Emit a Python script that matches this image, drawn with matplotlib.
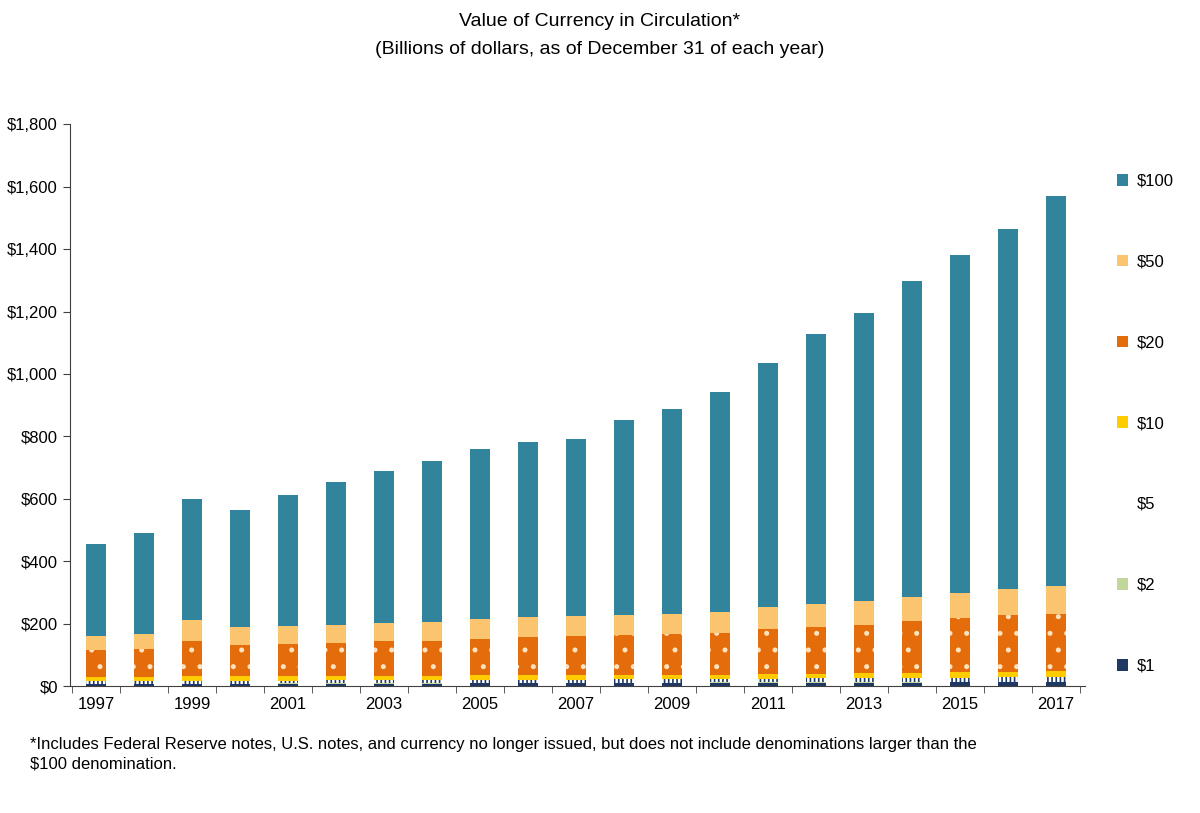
import matplotlib

matplotlib.use("Agg")
import matplotlib.pyplot as plt
import numpy as np
from matplotlib.patches import Patch
from matplotlib.ticker import FuncFormatter, MultipleLocator

plt.rcParams["font.family"] = ["Liberation Sans", "DejaVu Sans"]
plt.rcParams["hatch.linewidth"] = 1.2

years = list(range(1997, 2018))
totals = [457, 492, 601, 563, 612, 655, 690, 720, 759, 783, 792,
          853, 888, 942, 1034, 1127, 1197, 1298, 1380, 1464, 1571]
d1 = [6.6, 6.7, 7.1, 7.3, 7.5, 7.8, 8.0, 8.3, 8.6, 8.9, 9.2,
      9.4, 9.9, 10.1, 10.4, 10.8, 11.1, 11.6, 11.9, 12.3, 12.4]
d2 = [1.0, 1.1, 1.1, 1.2, 1.3, 1.3, 1.4, 1.4, 1.5, 1.5, 1.6,
      1.7, 1.7, 1.8, 1.9, 2.0, 2.0, 2.1, 2.2, 2.3, 2.4]
d5 = [7.9, 8.0, 8.9, 8.6, 8.7, 9.1, 9.5, 9.7, 10.0, 10.2, 10.2,
      10.5, 10.9, 11.0, 11.4, 11.9, 12.2, 12.8, 13.1, 13.5, 14.2]
d10 = [14.0, 14.0, 15.8, 15.0, 15.0, 14.9, 14.8, 14.7, 14.6, 14.6, 14.3,
       14.1, 14.1, 14.2, 14.5, 15.0, 15.6, 16.4, 17.1, 17.8, 18.5]
d20 = [85, 88, 113, 99, 104, 105, 110, 112, 118, 122, 125,
       127, 129, 133, 144, 150, 156, 165, 173, 181, 185]
d50 = [45, 49, 65, 57, 56, 58, 60, 60, 61, 63, 63,
       66, 66, 67, 70, 72, 75, 77, 81, 84, 87]
d100 = [t - a - b - c - d - e - f for t, a, b, c, d, e, f
        in zip(totals, d1, d2, d5, d10, d20, d50)]

series = [
    ("$1", d1, dict(color="#1f3864")),
    ("$2", d2, dict(color="#c3d69b")),
    ("$5", d5, dict(color="white", hatch="||||", edgecolor="#1f3864")),
    ("$10", d10, dict(color="#ffcc00")),
    ("$20", d20, dict(color="#e46c0a", hatch=".", edgecolor="#fde3c0")),
    ("$50", d50, dict(color="#fac56e")),
    ("$100", d100, dict(color="#31849b")),
]

fig = plt.figure(figsize=(12, 8.13), dpi=100)
ax = fig.add_axes([0.058, 0.156, 0.846, 0.691])

x = np.arange(len(years))
bottom = np.zeros(len(years))
handles = []
for label, vals, style in series:
    vals = np.array(vals)
    ax.bar(x, vals, 0.4, bottom=bottom, linewidth=0, **style)
    bottom += vals
    handles.append(Patch(label=label, linewidth=0, **style))

ax.set_xlim(-0.55, len(years) - 0.4)
ax.set_ylim(0, 1800)
ax.yaxis.set_major_locator(MultipleLocator(200))
ax.yaxis.set_major_formatter(FuncFormatter(lambda v, p: f"${v:,.0f}"))
ax.set_xticks(x[::2])
ax.set_xticklabels([str(y) for y in years[::2]])
ax.set_xticks(np.arange(-0.5, len(years), 1), minor=True)
ax.tick_params(axis="x", which="major", length=0, labelsize=12, pad=8)
ax.tick_params(axis="x", which="minor", length=5, color="#404040")
ax.tick_params(axis="y", length=5, labelsize=12, color="#404040")
for s in ("top", "right"):
    ax.spines[s].set_visible(False)
for s in ("left", "bottom"):
    ax.spines[s].set_color("#404040")

fig.legend(handles=handles[::-1], loc="upper left", bbox_to_anchor=(0.918, 0.805),
           frameon=False, fontsize=12, handlelength=0.7, handleheight=0.7,
           handletextpad=0.5, labelspacing=3.95)

fig.text(0.5, 0.973, "Value of Currency in Circulation*", ha="center", va="center", fontsize=14)
fig.text(0.5, 0.939, "(Billions of dollars, as of December 31 of each year)",
         ha="center", va="center", fontsize=14)
fig.text(0.025, 0.072,
         "*Includes Federal Reserve notes, U.S. notes, and currency no longer issued, "
         "but does not include denominations larger than the\n$100 denomination.",
         ha="left", va="center", fontsize=12, linespacing=1.35)

fig.savefig("out.png", dpi=100)
